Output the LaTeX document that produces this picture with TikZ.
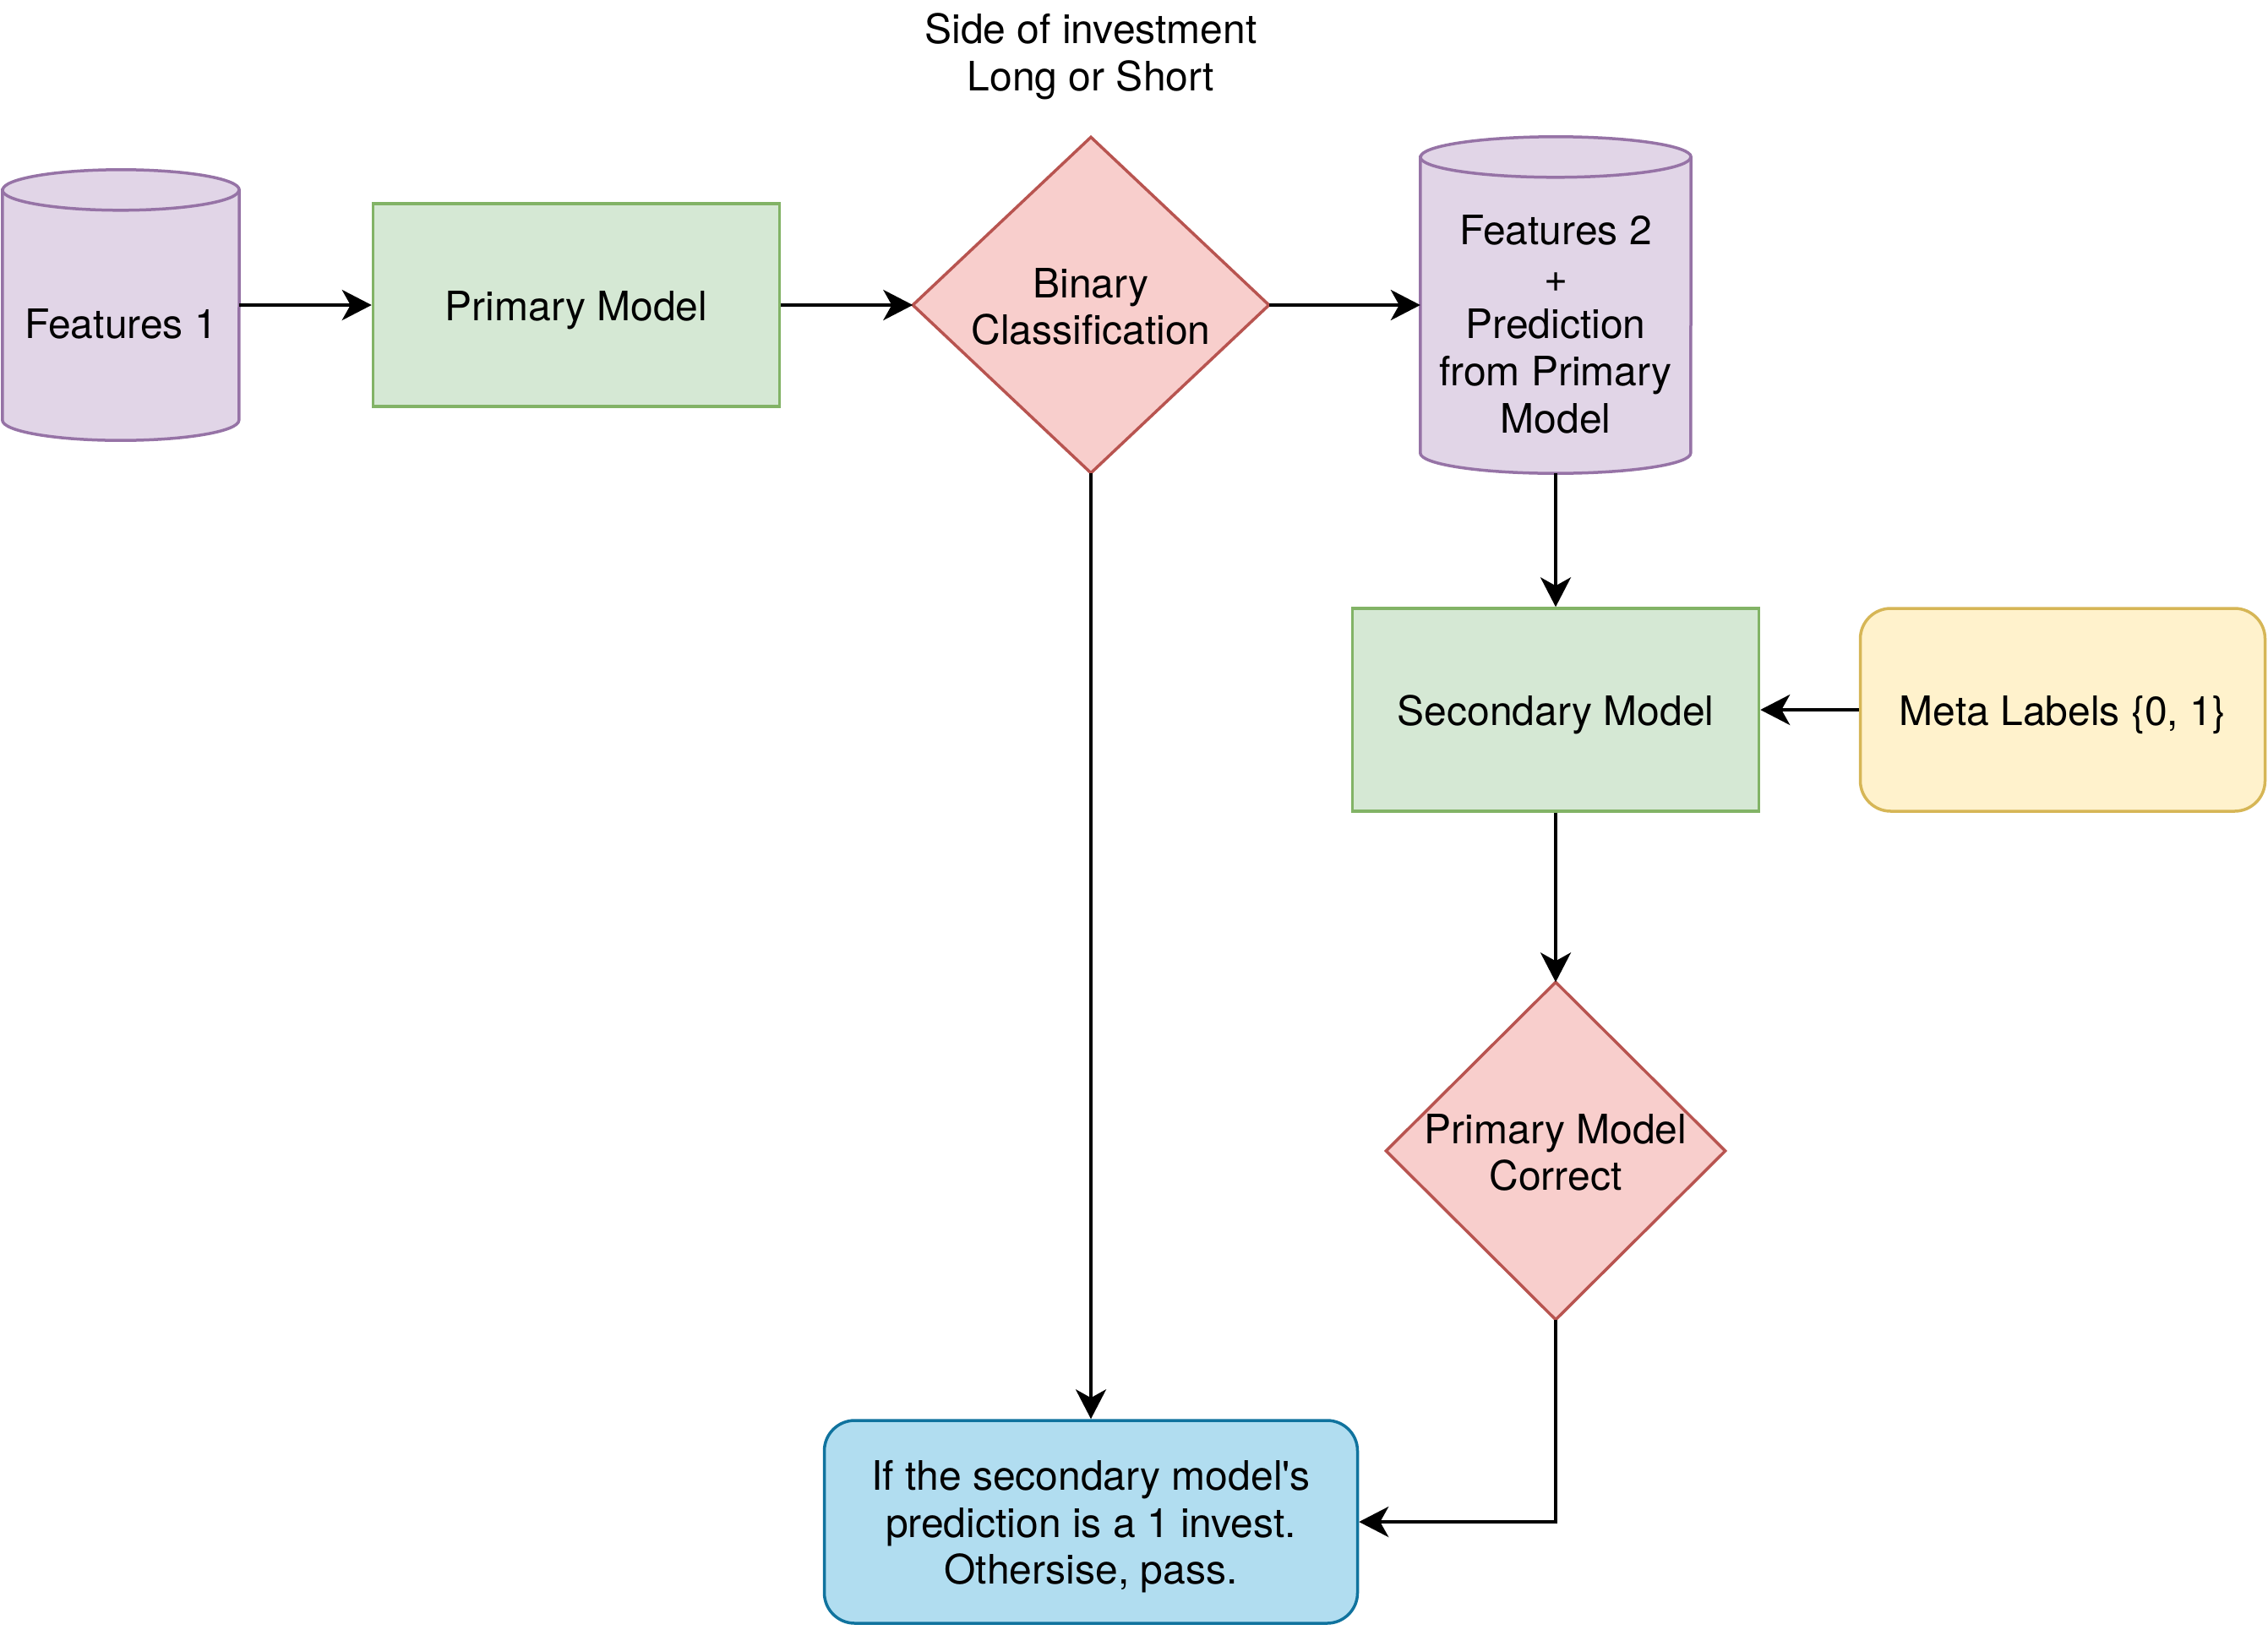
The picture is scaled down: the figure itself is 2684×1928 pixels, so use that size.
\documentclass[tikz,border=0pt]{standalone}
\usepackage{fontspec}
\setmainfont{TeX Gyre Heros}
\usetikzlibrary{arrows.meta,calc,backgrounds}

\definecolor{purplefill}{HTML}{E1D5E7}
\definecolor{purpleline}{HTML}{9673A6}
\definecolor{greenfill}{HTML}{D5E8D4}
\definecolor{greenline}{HTML}{82B366}
\definecolor{redfill}{HTML}{F8CECC}
\definecolor{redline}{HTML}{B85450}
\definecolor{yellowfill}{HTML}{FFF2CC}
\definecolor{yellowline}{HTML}{D6B656}
\definecolor{bluefill}{HTML}{B1DDF0}
\definecolor{blueline}{HTML}{10739E}

% fixed line box: ascent above the first baseline, descent below the last one
\newcommand{\upstrut}{\rule{0pt}{47.1pt}}
\newcommand{\downstrut}{\rule[-9.4pt]{0pt}{9.4pt}}

\begin{document}
\begin{tikzpicture}[x=1pt,y=1pt,
  every node/.style={font=\fontsize{48}{55.6}\selectfont, align=center, inner sep=0pt},
  sized/.style n args={2}{rectangle, minimum width=#1pt, minimum height=#2pt},
  greenbox/.style={draw=greenline, fill=greenfill, line width=3.5pt},
  yellowbox/.style={draw=yellowline, fill=yellowfill, line width=3.5pt, rounded corners=36pt},
  bluebox/.style={draw=blueline, fill=bluefill, line width=3.5pt, rounded corners=36pt},
  redshape/.style={draw=redline, fill=redfill, line width=3.5pt, line join=miter},
  cylshape/.style={draw=purpleline, fill=purplefill, line width=3.5pt},
  cyltext/.style={yshift=-21pt},
  conn/.style={line width=3.8pt, -{Stealth[length=35pt, width=36pt, inset=10pt]}}]

% page frame
\useasboundingbox (0,0) rectangle (2684,-1928);

% nodes
\node[sized={280}{320}, label={[cyltext]center:\upstrut Features 1\downstrut}] (f1) at (143,-361) {};
\node[sized={481}{240}, greenbox] (pm) at (682,-361) {\upstrut Primary Model\downstrut};
\node[sized={421}{397}] (bc) at (1291,-361) {\upstrut Binary\\Classification\downstrut};
\node (side) at (1291,-61) {\upstrut Side of investment\\Long or Short\downstrut};
\node[sized={320}{398}, label={[cyltext]center:\upstrut Features 2\\+\\Prediction\\from Primary\\Model\downstrut}] (f2) at (1841,-361) {};
\node[sized={481}{240}, greenbox] (sm) at (1841,-840) {\upstrut Secondary Model\downstrut};
\node[sized={479}{240}, yellowbox] (ml) at (2441,-840) {\upstrut Meta Labels \{0, 1\}\downstrut};
\node[sized={401}{399}] (pmc) at (1841,-1362) {\upstrut Primary Model\\Correct\downstrut};
\node[sized={631}{240}, bluebox] (fin) at (1291,-1801) {\upstrut If the secondary model\textquotesingle s\\prediction is a 1 invest.\\Othersise, pass.\downstrut};

% cylinders and decision diamonds behind their texts
\begin{scope}[on background layer]
  \foreach \c/\r in {f1/140,f2/160}{
    \path[cylshape]
      ($(\c.north west)+(0,-24)$) -- ($(\c.south west)+(0,24)$)
      arc[start angle=180, end angle=360, x radius=\r pt, y radius=24pt]
      -- ($(\c.north east)+(0,-24)$)
      arc[start angle=0, end angle=180, x radius=\r pt, y radius=24pt] -- cycle;
    \draw[draw=purpleline, line width=3.5pt]
      ($(\c.north west)+(0,-24)$) arc[start angle=180, end angle=360, x radius=\r pt, y radius=24pt];
  }
  \foreach \d in {bc,pmc}{
    \draw[redshape] (\d.north) -- (\d.east) -- (\d.south) -- (\d.west) -- cycle;
  }
\end{scope}

% connectors
\draw[conn] (f1.east) -- (pm.west);
\draw[conn] (pm.east) -- (bc.west);
\draw[conn] (bc.east) -- (f2.west);
\draw[conn] (f2.south) -- (sm.north);
\draw[conn] (ml.west) -- (sm.east);
\draw[conn] (sm.south) -- (pmc.north);
\draw[conn] (bc.south) -- (fin.north);
\draw[conn] (pmc.south) |- (fin.east);
\end{tikzpicture}
\end{document}
